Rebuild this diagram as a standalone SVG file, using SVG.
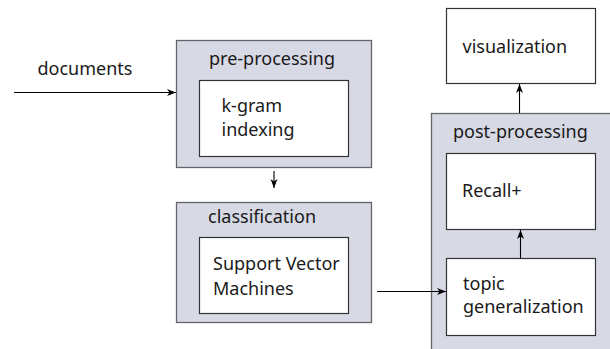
<svg xmlns="http://www.w3.org/2000/svg" width="610" height="349" viewBox="0 0 610 349">
<style>
.outer{fill:#d7d9e5;stroke:#666;stroke-width:1.3}
.inner{fill:#fff;stroke:#333;stroke-width:1.2}
text{font-family:"Noto Sans","Open Sans",sans-serif;font-size:18px;fill:#1a1a1a}
.conn{stroke:#000;stroke-width:1.1;fill:none;marker-end:url(#ah)}
</style>
<defs>
<marker id="ah" markerWidth="10" markerHeight="8" refX="9" refY="4" orient="auto" markerUnits="userSpaceOnUse">
<path d="M0,0.5 L9,4 L0,7.5 L2.5,4 Z" fill="#000"/>
</marker>
</defs>
<rect width="610" height="349" fill="#fff"/>
<g id="preprocessing">
<rect class="outer" x="176.5" y="40.5" width="195" height="127"/>
<text x="209" y="65">pre-processing</text>
</g>
<g id="kgram">
<rect class="inner" x="199.5" y="80.5" width="149" height="76"/>
<text x="221.5" y="111.5">k-gram</text>
<text x="221.5" y="136">indexing</text>
</g>
<g id="classification">
<rect class="outer" x="176.5" y="202.5" width="195" height="120"/>
<text x="208" y="223">classification</text>
</g>
<g id="svm">
<rect class="inner" x="199.5" y="237.5" width="149" height="76"/>
<text x="213" y="270">Support Vector</text>
<text x="213" y="295">Machines</text>
</g>
<g id="postprocessing">
<rect class="outer" x="431.5" y="113.5" width="180" height="240"/>
<text x="453" y="138">post-processing</text>
</g>
<g id="recall">
<rect class="inner" x="446.5" y="153.5" width="149" height="76"/>
<text x="462" y="197">Recall+</text>
</g>
<g id="topic">
<rect class="inner" x="446.5" y="258.5" width="149" height="77"/>
<text x="463" y="290">topic</text>
<text x="463" y="313">generalization</text>
</g>
<g id="visualization">
<rect class="inner" x="446.5" y="8.5" width="149" height="75"/>
<text x="462.5" y="53">visualization</text>
</g>
<g id="documents-label">
<text x="37.5" y="75">documents</text>
</g>
<g id="connectors">
<line class="conn" x1="14" y1="92.5" x2="176" y2="92.5"/>
<line class="conn" x1="274" y1="171" x2="274" y2="188"/>
<line class="conn" x1="377" y1="291.5" x2="446" y2="291.5"/>
<line class="conn" x1="520.5" y1="258" x2="520.5" y2="230"/>
<line class="conn" x1="519.5" y1="113" x2="519.5" y2="84"/>
</g>
</svg>
